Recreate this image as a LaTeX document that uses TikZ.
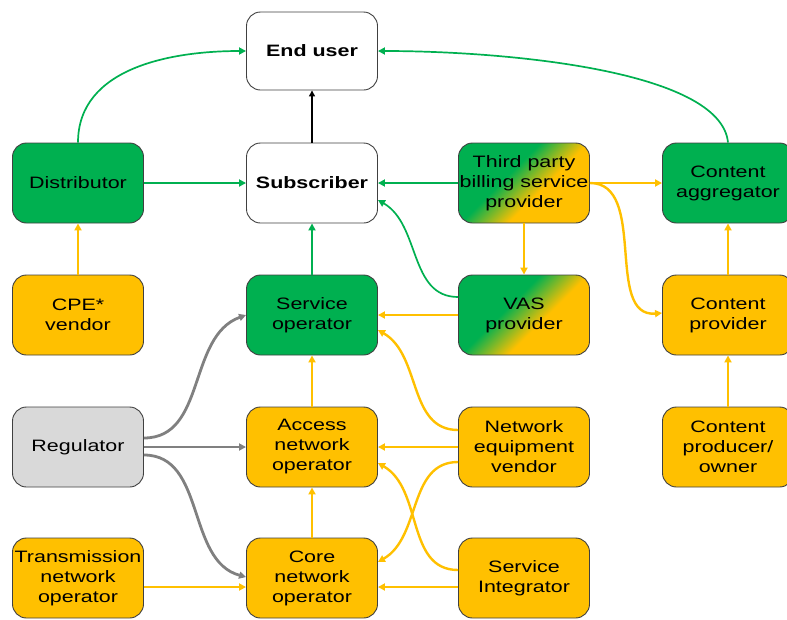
\documentclass[tikz,border=0pt]{standalone}
\usepackage{fontspec}
\setmainfont[FakeStretch=1.3]{Liberation Sans}
\usetikzlibrary{arrows.meta}
\definecolor{cgreen}{HTML}{00B050}
\definecolor{cyellow}{HTML}{FFC000}
\definecolor{cgray}{HTML}{D9D9D9}
\definecolor{carrowgray}{HTML}{808080}
\definecolor{cborder}{HTML}{404040}
\pgfdeclarehorizontalshading{gyshade}{100bp}{color(0bp)=(cgreen); color(42bp)=(cgreen); color(58bp)=(cyellow); color(100bp)=(cyellow)}
\begin{document}
\begin{tikzpicture}[x=1pt,y=-1pt,
 box/.style={draw=cborder, line width=0.9pt, rounded corners=14pt, minimum width=131pt, minimum height=80pt, align=center, inner sep=0pt, font=\fontsize{16.5}{20}\selectfont},
 gbox/.style={box, fill=cgreen},
 ybox/.style={box, fill=cyellow},
 wbox/.style={box, fill=white, font=\fontsize{16.5}{20}\selectfont\bfseries},
 rbox/.style={box, fill=cgray},
 mbox/.style={box, shade, shading=gyshade, shading angle=-45},
 garr/.style={draw=cgreen, line width=1.7pt, -{Triangle[length=7pt,width=7pt]}},
 yarr/.style={draw=cyellow, line width=2.4pt, -{Triangle[length=7pt,width=7pt]}},
 rarr/.style={draw=carrowgray, line width=2.8pt, -{Triangle[length=7pt,width=7pt]}},
 karr/.style={draw=black, line width=1.3pt, -{Triangle[length=6pt,width=6pt]}},
]
\clip (0,0) rectangle (787,619);
\node[wbox, minimum height=78pt] (eu) at (312,51) {End user};
\node[gbox] (dist) at (78,183) {Distributor};
\node[wbox] (sub) at (312,183) {Subscriber};
\node[mbox] (tp) at (524,183) {Third party\\billing service\\provider};
\node[gbox] (ca) at (728,183) {Content\\aggregator};
\node[ybox] (cpe) at (78,315) {CPE*\\vendor};
\node[gbox] (so) at (312,315) {Service\\operator};
\node[mbox] (vas) at (524,315) {VAS\\provider};
\node[ybox] (cp) at (728,315) {Content\\provider};
\node[rbox] (reg) at (78,447) {Regulator};
\node[ybox] (an) at (312,447) {Access\\network\\operator};
\node[ybox] (nev) at (524,447) {Network\\equipment\\vendor};
\node[ybox] (cpo) at (728,447) {Content\\producer/\\owner};
\node[ybox] (tno) at (78,578) {Transmission\\network\\operator};
\node[ybox] (core) at (312,578) {Core\\network\\operator};
\node[ybox] (si) at (524,578) {Service\\Integrator};

\draw[garr] (dist.north) to[out=90,in=180] (eu.west);
\draw[garr] (dist.east) -- (sub.west);
\draw[karr] (sub.north) -- (eu.south);
\draw[garr] (tp.west) -- (sub.east);
\draw[garr] (ca.north) .. controls ++(-7,-73) and ++(123,0) .. (eu.east);
\draw[yarr] (tp.east) -- (ca.west);
\draw[yarr] (tp.east) to[out=0,in=185] ([yshift=2pt]cp.west);
\draw[yarr] (tp.south) -- (vas.north);
\draw[garr] ([yshift=18pt]vas.west) to[out=180,in=-30] ([yshift=-17pt]sub.east);
\draw[garr] (so.north) -- (sub.south);
\draw[yarr] (vas.west) -- (so.east);
\draw[yarr] ([yshift=17pt]nev.west) to[out=180,in=-30] ([yshift=-15pt]so.east);
\draw[yarr] (cp.north) -- (ca.south);
\draw[yarr] (cpo.north) -- (cp.south);
\draw[yarr] (cpe.north) -- (dist.south);
\draw[yarr] (an.north) -- (so.south);
\draw[rarr] ([yshift=9pt]reg.east) to[out=0,in=200] (so.west);
\draw[rarr] (reg.east) -- (an.west);
\draw[rarr] ([yshift=-8pt]reg.east) to[out=0,in=165] ([yshift=1pt]core.west);
\draw[yarr] (nev.west) -- (an.east);
\draw[yarr] ([yshift=-15pt]nev.west) to[out=180,in=30] ([yshift=16pt]core.east);
\draw[yarr] ([yshift=8pt]si.west) to[out=180,in=-30] ([yshift=-16pt]an.east);
\draw[yarr] ([yshift=-9pt]si.west) -- ([yshift=-9pt]core.east);
\draw[yarr] (core.north) -- (an.south);
\draw[yarr] ([yshift=-9pt]tno.east) -- ([yshift=-9pt]core.west);
\end{tikzpicture}
\end{document}
